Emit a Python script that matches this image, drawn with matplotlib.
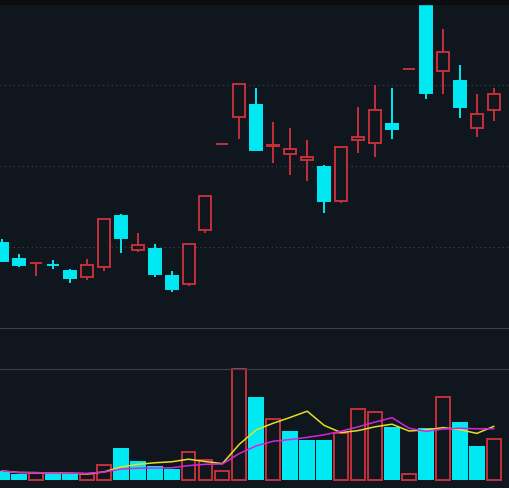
import matplotlib

matplotlib.use("Agg")
import matplotlib.pyplot as plt
import numpy as np
import pandas as pd
from matplotlib.patches import Rectangle

## daily bars
opens = [5.95, 5.75, 5.70, 5.68, 5.60, 5.53, 5.65, 6.28, 5.86, 5.88,
         5.54, 5.44, 6.11, 7.17, 7.50, 7.65, 7.15, 7.05, 6.97, 6.89,
         6.47, 7.22, 7.18, 7.42, 8.10, 8.91, 8.07, 7.95, 7.37, 7.59]
closes = [5.73, 5.68, 5.70, 5.68, 5.52, 5.68, 6.25, 6.01, 5.92, 5.57,
          5.38, 5.94, 6.53, 7.17, 7.91, 7.10, 7.16, 7.11, 7.01, 6.47,
          7.13, 7.26, 7.59, 7.36, 8.10, 7.80, 8.31, 7.63, 7.54, 7.79]
highs = [6.00, 5.81, 5.70, 5.74, 5.63, 5.75, 6.25, 6.31, 6.07, 5.94,
         5.60, 5.94, 6.53, 7.17, 7.91, 7.86, 7.44, 7.37, 7.22, 6.91,
         7.13, 7.63, 7.90, 7.86, 8.10, 8.91, 8.59, 8.15, 7.79, 7.86]
lows = [5.71, 5.65, 5.54, 5.63, 5.46, 5.49, 5.60, 5.83, 5.84, 5.53,
        5.34, 5.42, 6.07, 7.17, 7.23, 7.10, 6.94, 6.79, 6.71, 6.32,
        6.44, 7.06, 7.01, 7.23, 8.10, 7.73, 7.79, 7.49, 7.26, 7.46]
volumes = [9, 6, 7, 6, 6, 6, 15, 32, 19, 14,
           11, 28, 20, 9, 111, 83, 61, 49, 40, 40,
           47, 71, 68, 53, 6, 52, 83, 58, 34, 41]
gridPrices = [5.9, 6.9, 7.9]

bg = "#10161d"
red = "#c4303a"
cyan = "#00e9f2"
gridCol = "#3d4650"
spineCol = "#3b4148"

n = len(opens)
x = np.arange(n)

fig = plt.figure(figsize=(5.09, 4.88), dpi=100, facecolor=bg)
## dark strip above the chart
fig.patches.append(Rectangle((0, 0.992), 1, 0.008, transform=fig.transFigure, color="#0b0d10", zorder=0))

ax = fig.add_axes([0, 0.3279, 1, 0.6639])
axv = fig.add_axes([0, 0.01639, 1, 0.2275])

for a in (ax, axv):
    a.set_facecolor(bg)
    a.set_xticks([])
    a.set_yticks([])
    a.set_xlim(-0.118, n - 0.1)
    for s in a.spines.values():
        s.set_visible(False)

ax.spines["top"].set_visible(True)
ax.spines["bottom"].set_visible(True)
ax.spines["top"].set_color(spineCol)
ax.spines["bottom"].set_color(spineCol)
axv.spines["top"].set_visible(True)
axv.spines["top"].set_color(spineCol)

ax.set_ylim(4.9, 8.9)
for g in gridPrices:
    ax.axhline(g, color=gridCol, lw=0.8, linestyle=(0, (1, 3)), zorder=0)

bodyW = 0.71
lw = 1.4
for i in range(n):
    o, c, h, l = opens[i], closes[i], highs[i], lows[i]
    if o == c and i > 0:
        up = c >= closes[i - 1]
    else:
        up = c >= o
    lo, hi = min(o, c), max(o, c)
    if up:
        ## hollow red body, wicks only outside the body
        if h > hi:
            ax.plot([x[i], x[i]], [hi, h], color=red, lw=lw, solid_capstyle="butt")
        if l < lo:
            ax.plot([x[i], x[i]], [l, lo], color=red, lw=lw, solid_capstyle="butt")
        ax.add_patch(Rectangle((x[i] - bodyW / 2, lo), bodyW, hi - lo,
                               facecolor=bg, edgecolor=red, lw=lw, zorder=3))
    else:
        ax.plot([x[i], x[i]], [l, h], color=cyan, lw=lw, solid_capstyle="butt")
        ax.add_patch(Rectangle((x[i] - bodyW / 2, lo), bodyW, hi - lo,
                               facecolor=cyan, edgecolor=cyan, lw=lw, zorder=3))

## volume panel
axv.set_ylim(0, max(volumes))
for i in range(n):
    if i == 0:
        up = closes[i] >= opens[i]
    else:
        up = closes[i] >= closes[i - 1]
    if up:
        axv.add_patch(Rectangle((x[i] - 0.41, 0), 0.82, volumes[i],
                                facecolor=bg, edgecolor=red, lw=lw, zorder=2, clip_on=False))
    else:
        axv.bar(x[i], volumes[i], width=0.94, color=cyan, zorder=2)

vol = pd.Series(volumes)
ma5 = vol.rolling(5, min_periods=1).mean()
ma10 = vol.rolling(10, min_periods=1).mean()
axv.plot(x, ma5, color="#e2e022", lw=1.1, zorder=4)
axv.plot(x, ma10, color="#d524e0", lw=1.1, zorder=5)

fig.savefig("out.png", dpi=100, facecolor=fig.get_facecolor())
